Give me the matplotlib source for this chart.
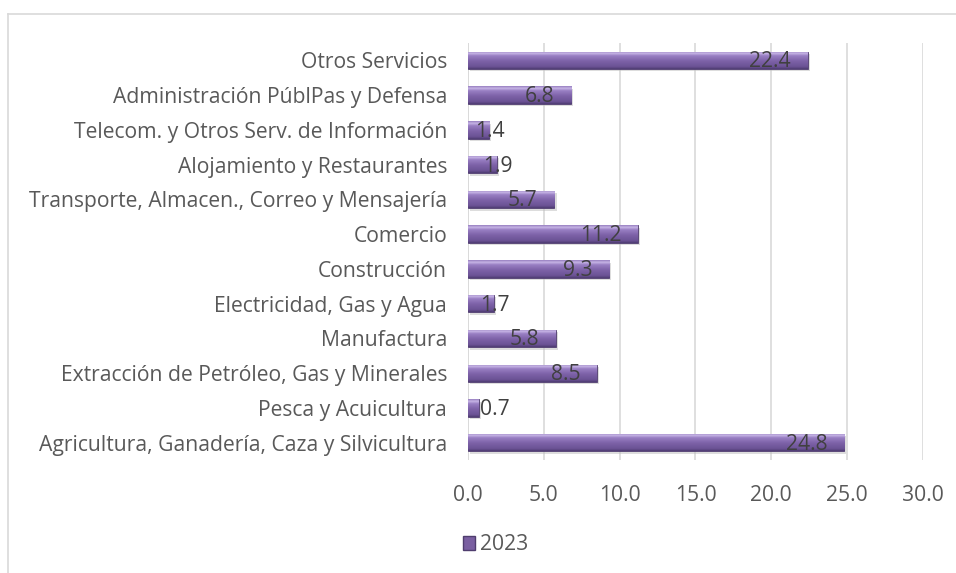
import matplotlib
matplotlib.use("Agg")
import numpy as np
import matplotlib.pyplot as plt
from matplotlib.lines import Line2D
from matplotlib.patches import Patch
from matplotlib.colors import LinearSegmentedColormap

plt.rcParams['font.family'] = ['Open Sans', 'DejaVu Sans']

sectores = [
    "Agricultura, Ganadería, Caza y Silvicultura",
    "Pesca y Acuicultura",
    "Extracción de Petróleo, Gas y Minerales",
    "Manufactura",
    "Electricidad, Gas y Agua",
    "Construcción",
    "Comercio",
    "Transporte, Almacen., Correo y Mensajería",
    "Alojamiento y Restaurantes",
    "Telecom. y Otros Serv. de Información",
    "Administración PúblPas y Defensa",
    "Otros Servicios",
]
valores_2023 = [24.8, 0.7, 8.5, 5.8, 1.7, 9.3, 11.2, 5.7, 1.9, 1.4, 6.8, 22.4]
xticks = [0, 5, 10, 15, 20, 25, 30]

fs = 15.2

fig = plt.figure(figsize=(9.56, 5.73), dpi=100)
ax = fig.add_axes([0.4895, 0.197, 0.476, 0.728])

pos = list(range(len(sectores)))
h = 0.5

# bevel-like vertical gradient (bottom -> top)
grad = LinearSegmentedColormap.from_list(
    "bevel", [(0.0, '#4e3c72'), (0.12, '#6b5294'), (0.45, '#7d62a8'),
              (0.75, '#9a80c4'), (0.88, '#c7b5e6'), (1.0, '#9880c0')])

ax.barh([p - 0.07 for p in pos], valores_2023, height=h, left=0.15,
        color='#bdbdbd', alpha=0.5, linewidth=0, zorder=2)
bars = ax.barh(pos, valores_2023, height=h, color='#7a5fa1', edgecolor='#4f3d6e',
               linewidth=0.6, zorder=3)
g = np.linspace(0, 1, 64).reshape(-1, 1)
for b in bars:
    x0, y0 = b.get_x(), b.get_y()
    im = ax.imshow(g, cmap=grad, origin='lower', aspect='auto',
                   extent=[x0, x0 + b.get_width(), y0, y0 + b.get_height()],
                   zorder=4, interpolation='bilinear')
    im.set_clip_path(b)

for p, v in zip(pos, valores_2023):
    if v >= 3:
        x, ha = v - 1.1, 'right'
    elif v >= 1:
        x, ha = v - 0.9, 'left'
    else:
        x, ha = v + 0.1, 'left'
    ax.text(x, p - 0.04, f"{v:.1f}", ha=ha, va='center',
            fontsize=fs, color='#404040', zorder=6)

ax.set_xlim(0, 30)
ax.set_ylim(-0.5, len(sectores) - 0.5)
ax.set_xticks(xticks)
ax.set_xticklabels([f"{t:.1f}" for t in xticks])
ax.set_yticks(pos)
ax.set_yticklabels(sectores)
ax.tick_params(axis='x', length=0, pad=18, labelsize=fs, colors='#595959')
ax.tick_params(axis='y', length=0, pad=15, labelsize=fs, colors='#595959')
ax.grid(axis='x', color='#d9d9d9', linewidth=1.2, zorder=0)
ax.set_axisbelow(True)
for s in ax.spines.values():
    s.set_visible(False)
ax.axvline(0, color='#d9d9d9', linewidth=1.2, zorder=1)

# outer chart frame
fig.add_artist(Line2D([8 / 956, 1.0], [1 - 14 / 573] * 2, transform=fig.transFigure,
                      color='#d9d9d9', linewidth=1.2))
fig.add_artist(Line2D([8 / 956] * 2, [0, 1 - 14 / 573], transform=fig.transFigure,
                      color='#d9d9d9', linewidth=1.2))

fig.legend(handles=[Patch(facecolor='#7a5fa1', edgecolor='#4f3d6e', label='2023')],
           loc='center', bbox_to_anchor=(0.518, 0.049), frameon=False,
           fontsize=fs, handlelength=0.6, handleheight=0.6, handletextpad=0.2,
           labelcolor='#595959')

fig.savefig("out.png", dpi=100)
